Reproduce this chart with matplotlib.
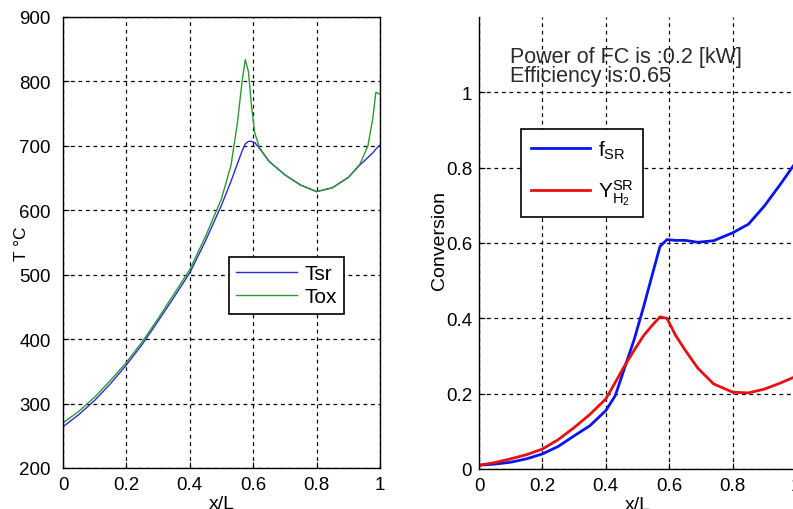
import matplotlib
matplotlib.use("Agg")
import matplotlib.pyplot as plt

plt.rcParams['font.family'] = ['Liberation Sans', 'DejaVu Sans']
plt.rcParams['mathtext.fontset'] = 'custom'
plt.rcParams['mathtext.rm'] = 'Liberation Sans'
plt.rcParams['mathtext.it'] = 'Liberation Sans'

# Temperature profiles along the reactor
x_t = [0.0, 0.05, 0.1, 0.15, 0.2, 0.25, 0.3, 0.35, 0.4, 0.45, 0.5, 0.53, 0.55,
       0.565, 0.575, 0.585, 0.595, 0.605, 0.62, 0.65, 0.7, 0.75, 0.8, 0.85,
       0.9, 0.936, 0.962, 0.977, 0.987, 0.997, 1.0]
t_sr = [264, 283, 305, 331, 360, 392, 428, 465, 503, 553, 608, 645, 672,
        692, 703, 707, 707, 705, 696, 676, 655, 639, 629, 635, 651, 670, 682,
        689, 695, 700, 701]
t_ox = [270, 288, 310, 336, 364, 396, 432, 470, 508, 560, 618, 670, 735,
        800, 834, 815, 760, 720, 697, 676, 655, 639, 629, 635, 651, 671, 700,
        742, 783, 781, 780]

# Conversion / yield profiles
x_c = [0.0, 0.05, 0.1, 0.15, 0.2, 0.25, 0.3, 0.35, 0.4, 0.43, 0.46, 0.49,
       0.52, 0.545, 0.571, 0.593, 0.62, 0.65, 0.69, 0.74, 0.8, 0.85, 0.9,
       0.95, 1.0]
f_sr = [0.01, 0.013, 0.018, 0.027, 0.04, 0.06, 0.088, 0.115, 0.155, 0.195,
        0.27, 0.345, 0.433, 0.511, 0.591, 0.609, 0.607, 0.607, 0.602, 0.606,
        0.627, 0.65, 0.698, 0.755, 0.815]
y_h2 = [0.01, 0.017, 0.027, 0.038, 0.053, 0.078, 0.11, 0.145, 0.186, 0.23,
        0.275, 0.316, 0.355, 0.38, 0.404, 0.4, 0.355, 0.316, 0.268, 0.226,
        0.204, 0.202, 0.212, 0.228, 0.246]

t_ticks = [200, 300, 400, 500, 600, 700, 800, 900]
x_ticks = [0, 0.2, 0.4, 0.6, 0.8, 1.0]
x_tick_labels = ['0', '0.2', '0.4', '0.6', '0.8', '1']
c_ticks = [0, 0.2, 0.4, 0.6, 0.8, 1.0]
c_tick_labels = ['0', '0.2', '0.4', '0.6', '0.8', '1']

W, H = 793, 510
fig = plt.figure(figsize=(W / 100, H / 100), dpi=100)

grid_kw = dict(color='black', linestyle=(0, (3, 3)), linewidth=0.9)
fs = 13.5
leg_fs = 15

def style_axes(ax, ypad):
    ax.tick_params(direction='in', length=4, labelsize=fs, colors='black')
    ax.tick_params(axis='y', pad=ypad)
    ax.tick_params(axis='x', pad=6)
    for s in ax.spines.values():
        s.set_linewidth(1.0)
    ax.grid(True, **grid_kw)
    ax.set_axisbelow(True)

# Left panel: temperatures
ax1 = fig.add_axes([63 / W, (H - 469) / H, (380 - 63) / W, (469 - 18) / H])
ax1.plot(x_t, t_sr, color='#2a2ae6', linewidth=1.0, label='Tsr')
ax1.plot(x_t, t_ox, color='#2e9a2e', linewidth=1.0, label='Tox')
ax1.set_xlim(0, 1)
ax1.set_ylim(200, 900)
ax1.set_xticks(x_ticks, x_tick_labels)
ax1.set_yticks(t_ticks)
style_axes(ax1, 9)
ax1.set_xlabel('x/L', fontsize=14, labelpad=1)
ax1.set_ylabel('T \u00b0C', fontsize=12.5)
ax1.yaxis.set_label_coords((29 - 63) / 317, 0.5)
leg1 = ax1.legend(loc='upper left', bbox_to_anchor=(0.524, 0.468),
                  borderaxespad=0, fancybox=False, framealpha=1,
                  edgecolor='black', fontsize=leg_fs, handlelength=2.9,
                  labelspacing=0.2, handletextpad=0.35, borderpad=0.35)
leg1.get_frame().set_linewidth(1.2)

# Right panel: conversion
ax2 = fig.add_axes([479 / W, (H - 470) / H, 317 / W, (470 - 18) / H])
ax2.plot(x_c, f_sr, color='#0a14f0', linewidth=2.0, label=r'$\mathrm{f_{SR}}$')
ax2.plot(x_c, y_h2, color='#e81010', linewidth=2.0,
         label=r'$\mathrm{Y^{SR}_{H_2}}$')
ax2.set_xlim(0, 1)
ax2.set_ylim(0, 1.2)
ax2.set_xticks(x_ticks, x_tick_labels)
ax2.set_yticks(c_ticks, c_tick_labels)
style_axes(ax2, 5)
ax2.spines['top'].set_visible(False)
ax2.set_xlabel('x/L', fontsize=14, labelpad=1)
ax2.set_ylabel('Conversion', fontsize=14)
ax2.yaxis.set_label_coords((448 - 479) / 317, 0.507)
ax2.text(0.098, 1.080, 'Power of FC is :0.2 [kW]', fontsize=15.5,
         color='#2a2a2a', va='baseline')
ax2.text(0.098, 1.029, 'Efficiency is:0.65', fontsize=15.5,
         color='#2a2a2a', va='baseline')
leg2 = ax2.legend(loc='upper left', bbox_to_anchor=(0.133, 0.752),
                  borderaxespad=0, fancybox=False, framealpha=1,
                  edgecolor='black', fontsize=leg_fs, handlelength=2.85,
                  labelspacing=0.8, handletextpad=0.38, borderpad=0.45)
leg2.get_frame().set_linewidth(1.2)

fig.savefig('out.png', dpi=100)
